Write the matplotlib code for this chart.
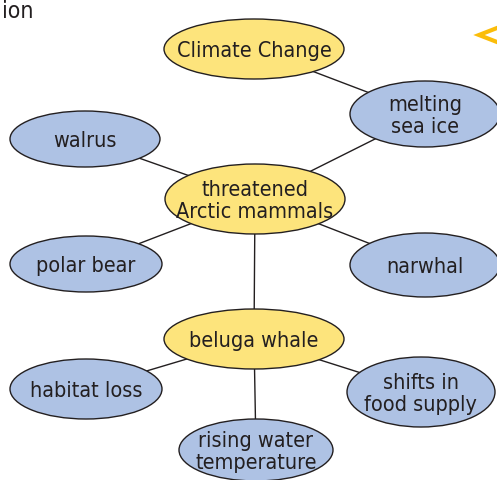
import matplotlib.pyplot as plt
from matplotlib.patches import Ellipse

# Nodos del mapa conceptual
etiquetas = ['Climate Change', 'melting\nsea ice', 'walrus', 'threatened\nArctic mammals',
             'polar bear', 'narwhal', 'beluga whale', 'habitat loss',
             'shifts in\nfood supply', 'rising water\ntemperature']
tipos = ['main', 'sub', 'sub', 'main', 'sub', 'sub', 'main', 'sub', 'sub', 'sub']
conexiones = [(0, 1), (1, 3), (2, 3), (4, 3), (5, 3), (3, 6), (6, 7), (6, 8), (6, 9)]

# Disposicion (pixeles de la imagen)
centros = [(254, 50), (425, 115), (85, 140), (255, 200), (86, 265), (425, 266),
           (254, 340), (86, 390), (421, 393), (256, 451)]
tamanos = [(180, 60), (150, 66), (150, 56), (180, 70), (152, 56), (150, 64),
           (180, 60), (152, 60), (148, 70), (154, 62)]
colores = {'main': '#fde47c', 'sub': '#aec2e4'}

fig = plt.figure(figsize=(4.97, 4.81), dpi=100)
ax = fig.add_axes([0, 0, 1, 1])
ax.set_xlim(0, 497)
ax.set_ylim(481, 0)
ax.axis('off')

for a, b in conexiones:
    (x1, y1), (x2, y2) = centros[a], centros[b]
    ax.plot([x1, x2], [y1, y2], color='#231f20', lw=1.0, zorder=1)

for etiqueta, tipo, (cx, cy), (w, h) in zip(etiquetas, tipos, centros, tamanos):
    ax.add_patch(Ellipse((cx, cy), w, h, facecolor=colores[tipo],
                         edgecolor='#231f20', lw=1.0, zorder=2))
    ax.text(cx, cy + 1, etiqueta, ha='center', va='center', fontsize=15.5,
            color='#231f20', family='DejaVu Sans', fontstretch='condensed',
            linespacing=1.15, zorder=3)

# restos de la pagina
ax.text(2, 18, 'ion', ha='left', va='baseline', fontsize=16.5, color='#231f20',
        family='DejaVu Sans', fontstretch='condensed')
ax.plot([497, 479, 497], [29, 36, 43], color='#fbbd0a', lw=3, solid_joinstyle='miter', zorder=3)

fig.savefig('out.png', dpi=100)
